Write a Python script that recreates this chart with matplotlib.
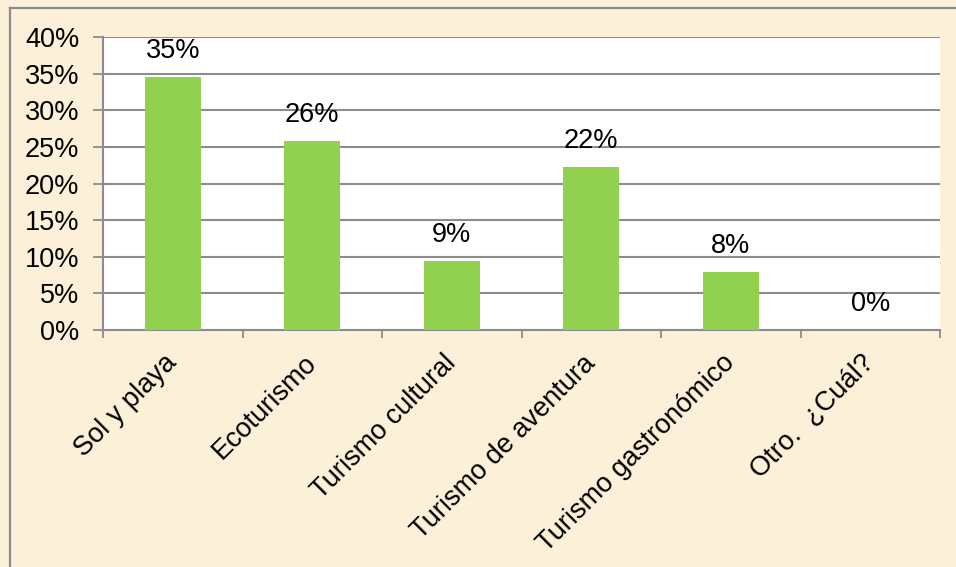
import matplotlib
matplotlib.use("Agg")
import matplotlib.pyplot as plt
from matplotlib.lines import Line2D
from matplotlib.ticker import PercentFormatter

plt.rcParams['font.family'] = ['Liberation Sans', 'DejaVu Sans']

categories = ["Sol y playa", "Ecoturismo", "Turismo cultural",
              "Turismo de aventura", "Turismo gastronómico", "Otro.  ¿Cuál?"]
shares = [34.6, 25.8, 9.4, 22.3, 7.9, 0.0]
y_ticks = [0, 5, 10, 15, 20, 25, 30, 35, 40]

W, H = 956, 567
FS = 19.5
fig = plt.figure(figsize=(W / 100, H / 100), dpi=100, facecolor="#FCF0D8")

# frame of the chart area (left and top edges)
fig.add_artist(Line2D([9.5 / W, 9.5 / W], [0, 1 - 7.5 / H], transform=fig.transFigure,
                      color="#8C8C8C", lw=1.6))
fig.add_artist(Line2D([9.5 / W, 1], [1 - 7.5 / H, 1 - 7.5 / H], transform=fig.transFigure,
                      color="#8C8C8C", lw=1.6))

ax = fig.add_axes([103 / W, 1 - 330 / H, (940 - 103) / W, (330 - 37) / H])
ax.set_facecolor("white")

x = list(range(len(categories)))
bars = ax.bar(x, shares, width=0.4, color="#92D050", zorder=3)

for xi, v in zip(x, shares):
    ax.annotate(f"{v:.0f}%", (xi, v), xytext=(0, 26), textcoords="offset pixels",
                ha="center", va="center", fontsize=FS, color="black", zorder=4)

ax.set_xlim(-0.5, len(categories) - 0.5)
ax.set_ylim(0, 40)
ax.set_yticks(y_ticks)
ax.yaxis.set_major_formatter(PercentFormatter(decimals=0))
ax.yaxis.grid(True, color="#8C8C8C", lw=1.5, zorder=1)

ax.set_xticks(x)
ax.set_xticklabels(categories, rotation=45, ha="right", va="center",
                   rotation_mode="anchor")
ax.set_xticks([i - 0.5 for i in range(len(categories) + 1)], minor=True)
ax.tick_params(axis="x", which="major", length=0, pad=21, labelsize=FS)
ax.tick_params(axis="x", which="minor", length=6, width=1.3, color="#8C8C8C")
ax.tick_params(axis="y", length=7, width=1.3, color="#8C8C8C", pad=10, labelsize=FS)

for side in ("top", "right"):
    ax.spines[side].set_visible(False)
for side in ("left", "bottom"):
    ax.spines[side].set_color("#8C8C8C")
    ax.spines[side].set_linewidth(1.5)

fig.savefig("out.png", dpi=100, facecolor=fig.get_facecolor())
